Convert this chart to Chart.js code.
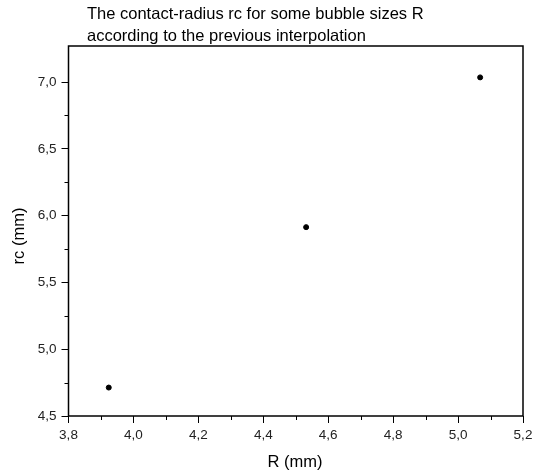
<!DOCTYPE html>
<html>
<head>
<meta charset="utf-8">
<script src="https://cdn.jsdelivr.net/npm/chart.js@4/dist/chart.umd.min.js"></script>
<style>
  html, body { margin: 0; padding: 0; background: #fff; }
  #wrap { width: 540px; height: 475px; }
</style>
</head>
<body>
<div id="wrap"><canvas id="c" width="540" height="475"></canvas></div>
<script>
const titleLines = ["The contact-radius rc for some bubble sizes R", "according to the previous interpolation"];
const xTitle = "R (mm)";
const yTitle = "rc (mm)";
const rValues = [3.924, 4.532, 5.068];
const rcValues = [4.713, 5.914, 7.035];
const xTickValues = [3.8, 4.0, 4.2, 4.4, 4.6, 4.8, 5.0, 5.2];
const xTickLabels = ["3,8", "4,0", "4,2", "4,4", "4,6", "4,8", "5,0", "5,2"];
const yTickValues = [4.5, 5.0, 5.5, 6.0, 6.5, 7.0];
const yTickLabels = ["4,5", "5,0", "5,5", "6,0", "6,5", "7,0"];
const xMinorTicks = [3.9, 4.1, 4.3, 4.5, 4.7, 4.9, 5.1];
const yMinorTicks = [4.75, 5.25, 5.75, 6.25, 6.75];

const FONT = "'Liberation Sans', Arial, sans-serif";

const framePlugin = {
  id: 'frame',
  afterDraw(chart) {
    const ctx = chart.ctx;
    const a = chart.chartArea;
    const xs = chart.scales.x, ys = chart.scales.y;
    ctx.save();
    ctx.strokeStyle = '#000';
    ctx.lineWidth = 1;
    // minor ticks
    ctx.beginPath();
    xMinorTicks.forEach(v => {
      const px = Math.round(xs.getPixelForValue(v)) + 0.5;
      ctx.moveTo(px, a.bottom);
      ctx.lineTo(px, a.bottom + 4);
    });
    yMinorTicks.forEach(v => {
      const py = Math.round(ys.getPixelForValue(v)) + 0.5;
      ctx.moveTo(a.left, py);
      ctx.lineTo(a.left - 4, py);
    });
    ctx.stroke();
    ctx.lineWidth = 1.5;
    ctx.strokeRect(a.left, a.top, a.right - a.left, a.bottom - a.top);
    // title
    ctx.fillStyle = '#000';
    ctx.font = "16.5px " + FONT;
    ctx.textAlign = 'left';
    ctx.textBaseline = 'alphabetic';
    ctx.fillText(titleLines[0], 87, 19);
    ctx.fillText(titleLines[1], 87, 41);
    // axis titles
    ctx.font = "16.5px " + FONT;
    ctx.textAlign = 'center';
    ctx.textBaseline = 'middle';
    ctx.fillText(xTitle, 295, 462);
    ctx.translate(19, 236);
    ctx.rotate(-Math.PI / 2);
    ctx.fillText(yTitle, 0, 0);
    ctx.restore();
  }
};

new Chart(document.getElementById('c'), {
  type: 'scatter',
  data: {
    datasets: [{
      data: rValues.map((r, i) => ({ x: r, y: rcValues[i] })),
      backgroundColor: '#000',
      borderColor: '#000',
      pointRadius: 2.5,
      pointHoverRadius: 2.5,
      showLine: false
    }]
  },
  options: {
    responsive: false,
    animation: false,
    devicePixelRatio: 1,
    layout: { padding: { top: 46, right: 17, left: 0, bottom: 0 } },
    plugins: { legend: { display: false }, tooltip: { enabled: false }, title: { display: false } },
    scales: {
      x: {
        type: 'linear',
        min: 3.8, max: 5.2,
        afterBuildTicks: s => { s.ticks = xTickValues.map(v => ({ value: v })); },
        afterFit: s => { s.height = 59; },
        grid: { drawOnChartArea: false, drawTicks: true, tickLength: 7, color: '#000', lineWidth: 1 },
        border: { display: false },
        ticks: {
          color: '#222', font: { family: FONT, size: 13.5 }, padding: 4, maxRotation: 0,
          callback: (v) => { const i = xTickValues.findIndex(t => Math.abs(t - v) < 1e-6); return i >= 0 ? xTickLabels[i] : ''; }
        },
        title: { display: false }
      },
      y: {
        type: 'linear',
        min: 4.5, max: 7.27,
        afterBuildTicks: s => { s.ticks = yTickValues.map(v => ({ value: v })); },
        afterFit: s => { s.width = 68.5; },
        grid: { drawOnChartArea: false, drawTicks: true, tickLength: 7, color: '#000', lineWidth: 1 },
        border: { display: false },
        ticks: {
          color: '#222', font: { family: FONT, size: 13.5 }, padding: 5,
          callback: (v) => { const i = yTickValues.findIndex(t => Math.abs(t - v) < 1e-6); return i >= 0 ? yTickLabels[i] : ''; }
        },
        title: { display: false }
      }
    }
  },
  plugins: [framePlugin]
});
</script>
</body>
</html>
